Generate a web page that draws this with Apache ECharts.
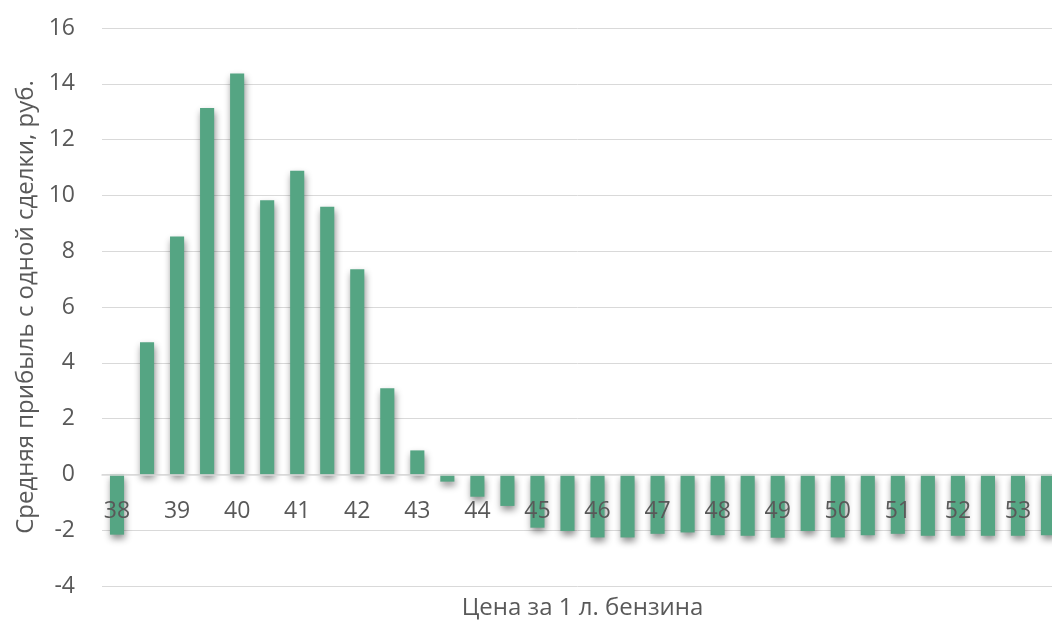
<!DOCTYPE html>
<html>
<head>
<meta charset="utf-8">
<script src="https://cdn.jsdelivr.net/npm/echarts@6/dist/echarts.min.js"></script>
<style>html,body{margin:0;padding:0;background:#fff;}#c{width:1052px;height:622px;}</style>
</head>
<body>
<div id="c"></div>
<script>
const categories = ['38','38.5','39','39.5','40','40.5','41','41.5','42','42.5','43','43.5','44','44.5','45','45.5','46','46.5','47','47.5','48','48.5','49','49.5','50','50.5','51','51.5','52','52.5','53','53.5'];
const profit = [-2.16,4.74,8.53,13.13,14.37,9.83,10.88,9.59,7.35,3.09,0.86,-0.26,-0.8,-1.13,-1.91,-2.03,-2.26,-2.26,-2.13,-2.08,-2.18,-2.2,-2.27,-2.03,-2.26,-2.18,-2.13,-2.2,-2.2,-2.2,-2.2,-2.18];
const xTitle = 'Цена за 1 л. бензина';
const yTitle = 'Средняя прибыль с одной сделки, руб.';

const font = 'Open Sans';
const chart = echarts.init(document.getElementById('c'), null, {renderer:'canvas'});
chart.setOption({
  animation: false,
  grid: {left: 102, right: -11, top: 28, bottom: 36, containLabel: false, outerBoundsMode: 'none'},
  xAxis: {
    type: 'category',
    data: categories,
    z: 10,
    axisLine: {onZero: true, lineStyle: {color: '#d9d9d9', width: 1.5}},
    axisTick: {show: false},
    axisLabel: {interval: 1, color: '#595959', fontFamily: font, fontSize: 23, margin: -86},
    name: xTitle,
    nameLocation: 'middle',
    nameGap: 10,
    nameTextStyle: {color: '#595959', fontFamily: font, fontSize: 24}
  },
  yAxis: {
    type: 'value',
    min: -4, max: 16, interval: 2,
    axisLine: {show: false},
    axisTick: {show: false},
    splitLine: {lineStyle: {color: '#d9d9d9', width: 1}},
    axisLabel: {color: '#595959', fontFamily: font, fontSize: 23, margin: 27},
    name: yTitle,
    nameLocation: 'middle',
    nameGap: 62,
    nameRotate: 90,
    nameTextStyle: {color: '#595959', fontFamily: font, fontSize: 24}
  },
  series: [{
    type: 'bar',
    data: profit,
    barCategoryGap: '53%',
    itemStyle: {
      color: '#55a583',
      shadowColor: 'rgba(0,0,0,0.45)',
      shadowBlur: 7,
      shadowOffsetX: 1,
      shadowOffsetY: 4
    }
  }]
});
</script>
</body>
</html>
